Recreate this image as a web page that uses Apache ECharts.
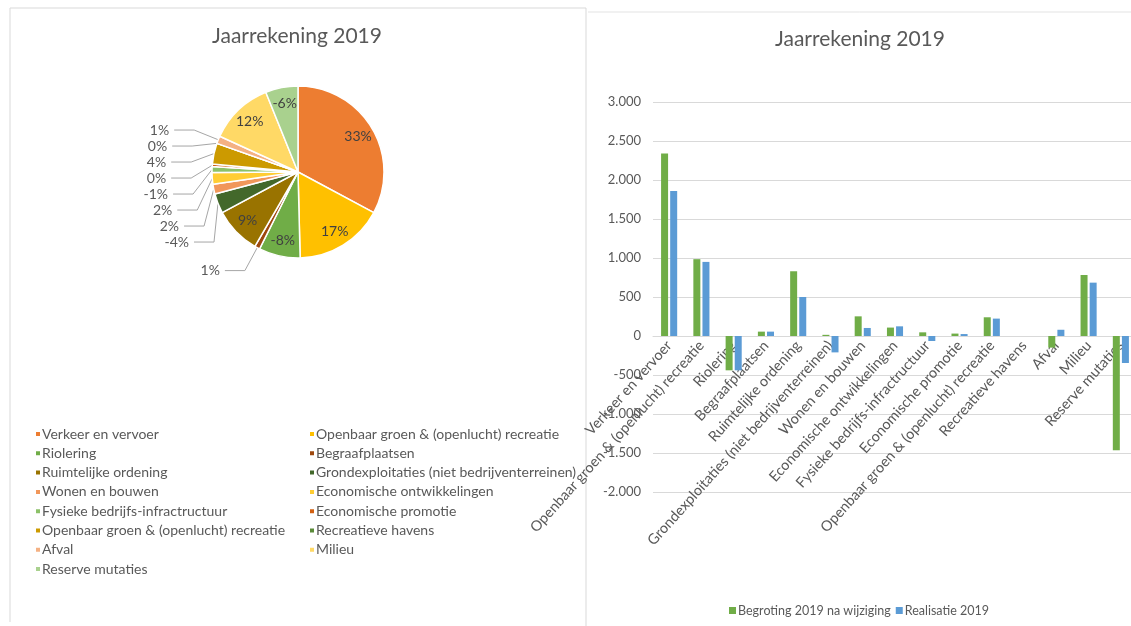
<!DOCTYPE html>
<html>
<head>
<meta charset="utf-8">
<script src="https://cdn.jsdelivr.net/npm/echarts@6/dist/echarts.min.js"></script>
<style>
html,body{margin:0;padding:0;background:#fff;}
#chart{width:1131px;height:626px;}
</style>
</head>
<body>
<div id="chart"></div>
<script>
const categories = [
  'Verkeer en vervoer',
  'Openbaar groen & (openlucht) recreatie',
  'Riolering',
  'Begraafplaatsen',
  'Ruimtelijke ordening',
  'Grondexploitaties (niet bedrijventerreinen)',
  'Wonen en bouwen',
  'Economische ontwikkelingen',
  'Fysieke bedrijfs-infractructuur',
  'Economische promotie',
  'Openbaar groen & (openlucht) recreatie',
  'Recreatieve havens',
  'Afval',
  'Milieu',
  'Reserve mutaties'
];
const begroting = [2340, 985, -440, 56, 830, 15, 252, 108, 47, 31, 240, 0, -149, 782, -1465];
const realisatie = [1860, 950, -440, 56, 500, -210, 103, 124, -64, 25, 223, 0, 80, 684, -346];
const pieColors = ['#ED7D31','#FFC000','#70AD47','#9E480E','#997300','#43682B','#F1975A','#FFCD33','#8CC168','#D26012','#CC9A00','#5A8A39','#F4B183','#FFD966','#A9D18E'];
const yTicks = {min: -2000, max: 3000, interval: 500};
const title = 'Jaarrekening 2019';
const barSeriesNames = ['Begroting 2019 na wijziging', 'Realisatie 2019'];

const FONT = 'Lato';
const TXT = '#595959';
const GRID = {left: 653, top: 102, width: 484, height: 390};
// put the category axis (line + labels) at the value 0
const zeroOffset = -GRID.height * (0 - yTicks.min) / (yTicks.max - yTicks.min);

// unique names for pie/legend (duplicate category gets trailing space)
const seen = {};
const pieNames = categories.map(n => { let s = n; while (seen[s]) s += ' '; seen[s] = true; return s; });
const absTotal = realisatie.reduce((a, v) => a + Math.abs(v), 0);
const isLarge = v => Math.abs(v) / absTotal * 100 >= 5;
const pctFmt = p => (p.data.signed < 0 ? '-' : '') + Math.round(p.percent) + '%';

const pieData = realisatie.map((v, i) => ({
  name: pieNames[i],
  value: Math.abs(v),
  signed: v,
  itemStyle: {color: pieColors[i]},
  label: {show: !isLarge(v)},
  labelLine: {show: !isLarge(v)}
}));
const pieLabelData = realisatie.map((v, i) => ({
  name: pieNames[i],
  value: Math.abs(v),
  signed: v,
  label: {show: isLarge(v)}
}));

const leftLegend = pieNames.filter((n, i) => i % 2 === 0);
const rightLegend = pieNames.filter((n, i) => i % 2 === 1);

const chart = echarts.init(document.getElementById('chart'), null, {renderer: 'canvas'});
chart.setOption({
  backgroundColor: '#fff',
  animation: false,
  textStyle: {fontFamily: FONT},
  graphic: [
    {type: 'polyline', shape: {points: [[10, 622], [10, 8], [586, 8], [586, 626]]}, style: {stroke: '#d9d9d9', fill: null, lineWidth: 1}, silent: true},
    {type: 'line', shape: {x1: 588, y1: 12, x2: 1131, y2: 12}, style: {stroke: '#e3e3e3', lineWidth: 1}, silent: true}
  ],
  title: [
    {text: title, left: 292, top: 21, textAlign: 'center', textStyle: {fontFamily: FONT, fontSize: 21, fontWeight: 'normal', color: TXT}},
    {text: title, left: 855, top: 24, textAlign: 'center', textStyle: {fontFamily: FONT, fontSize: 21, fontWeight: 'normal', color: TXT}}
  ],
  legend: [
    {
      data: leftLegend, orient: 'vertical', left: 29, top: 422,
      itemWidth: 6, itemHeight: 6, itemGap: 5.3, icon: 'rect',
      textStyle: {fontFamily: FONT, fontSize: 14, color: TXT, padding: [0, 0, 0, -4]}
    },
    {
      data: rightLegend, orient: 'vertical', left: 303, top: 422,
      itemWidth: 6, itemHeight: 6, itemGap: 5.3, icon: 'rect',
      textStyle: {fontFamily: FONT, fontSize: 14, color: TXT, padding: [0, 0, 0, -4]}
    },
    {
      data: barSeriesNames, orient: 'horizontal', left: 724, top: 599,
      itemWidth: 7, itemHeight: 7, itemGap: 5, icon: 'rect',
      textStyle: {fontFamily: FONT, fontSize: 12.5, color: TXT, padding: [0, 0, 0, -3]}
    }
  ],
  grid: {left: GRID.left, top: GRID.top, width: GRID.width, height: GRID.height, containLabel: false, outerBoundsMode: 'none'},
  xAxis: {
    type: 'category', data: categories, position: 'bottom', offset: zeroOffset,
    axisLine: {onZero: false, lineStyle: {color: '#d9d9d9'}},
    axisTick: {show: false},
    axisLabel: {interval: 0, rotate: 48, color: TXT, fontFamily: FONT, fontSize: 14.5, margin: 7}
  },
  yAxis: {
    type: 'value', min: yTicks.min, max: yTicks.max, interval: yTicks.interval,
    axisLine: {show: false}, axisTick: {show: false},
    splitLine: {lineStyle: {color: '#d9d9d9'}},
    axisLabel: {color: TXT, fontFamily: FONT, fontSize: 13, margin: 12,
      formatter: v => (v < 0 ? '-' : '') + String(Math.abs(v)).replace(/\B(?=(\d{3})+(?!\d))/g, '.')}
  },
  series: [
    {
      type: 'pie', center: [298, 172], radius: 86, startAngle: 90, clockwise: true,
      avoidLabelOverlap: true,
      itemStyle: {borderColor: '#fff', borderWidth: 1.5},
      label: {position: 'outside', fontFamily: FONT, fontSize: 14, color: TXT, formatter: pctFmt},
      labelLine: {length: 26, length2: 20, lineStyle: {color: '#a6a6a6', width: 1}},
      data: pieData
    },
    {
      type: 'pie', center: [298, 172], radius: [48, 86], startAngle: 90, clockwise: true,
      silent: true, z: 3,
      itemStyle: {color: 'rgba(0,0,0,0)', borderWidth: 0},
      label: {position: 'inside', fontFamily: FONT, fontSize: 14, color: '#404040', formatter: pctFmt},
      labelLine: {show: false},
      data: pieLabelData
    },
    {
      name: barSeriesNames[0], type: 'bar', data: begroting,
      barWidth: 7, barGap: '30%', itemStyle: {color: '#70AD47'}
    },
    {
      name: barSeriesNames[1], type: 'bar', data: realisatie,
      barWidth: 7, barGap: '30%', itemStyle: {color: '#5B9BD5'}
    }
  ]
});
</script>
</body>
</html>
